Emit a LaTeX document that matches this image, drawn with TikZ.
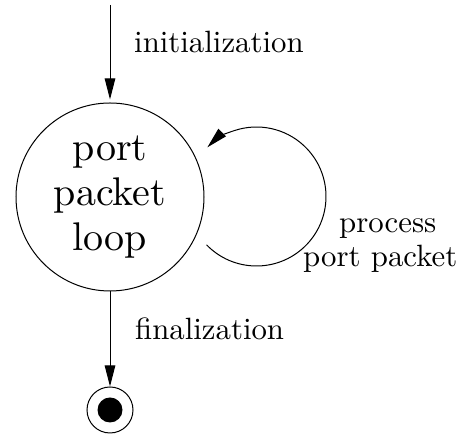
\documentclass[tikz,border=0pt]{standalone}
\usepackage{fontspec}
\setmainfont{lmroman10-regular}[Extension=.otf]
\usetikzlibrary{arrows.meta}
\tikzset{
  edge/.style={line width=1pt, -{Triangle[length=21pt,width=10.5pt]}},
  lbl/.style={inner sep=0pt, anchor=base west, font=\fontsize{30.8}{34}\selectfont},
}
\begin{document}
\begin{tikzpicture}[x=1pt,y=1pt]
  \useasboundingbox (0,0) rectangle (459,438);
  % start point
  \coordinate (init) at (110,433);
  % main state
  \node[circle, draw, line width=1pt, minimum size=188pt, inner sep=0pt,
        align=center, font=\fontsize{40}{45}\selectfont] (loop) at (110,241)
        {port\\packet\\loop};
  % final state
  \node[circle, draw, line width=1pt, minimum size=46pt, inner sep=0pt] (final) at (110,28) {};
  \fill (final.center) circle[radius=12.5pt];
  % transitions
  \draw[edge, shorten >=3pt] (init) -- (loop.north);
  \node[lbl] (linit) at (134,385) {initialization};
  \draw[edge] (loop.south) -- (final.north);
  \node[lbl] (lfinal) at (135,98) {finalization};
  % self loop
  \coordinate (loopc) at (256.5,241.5);
  \draw[edge] ([shift={(-136:69.5)}]loopc) arc[start angle=-136, end angle=135, radius=69.5];
  \node[lbl] (lproc1) at (339,205) {process};
  \node[lbl] (lproc2) at (303,171) {port packet};
\end{tikzpicture}
\end{document}
